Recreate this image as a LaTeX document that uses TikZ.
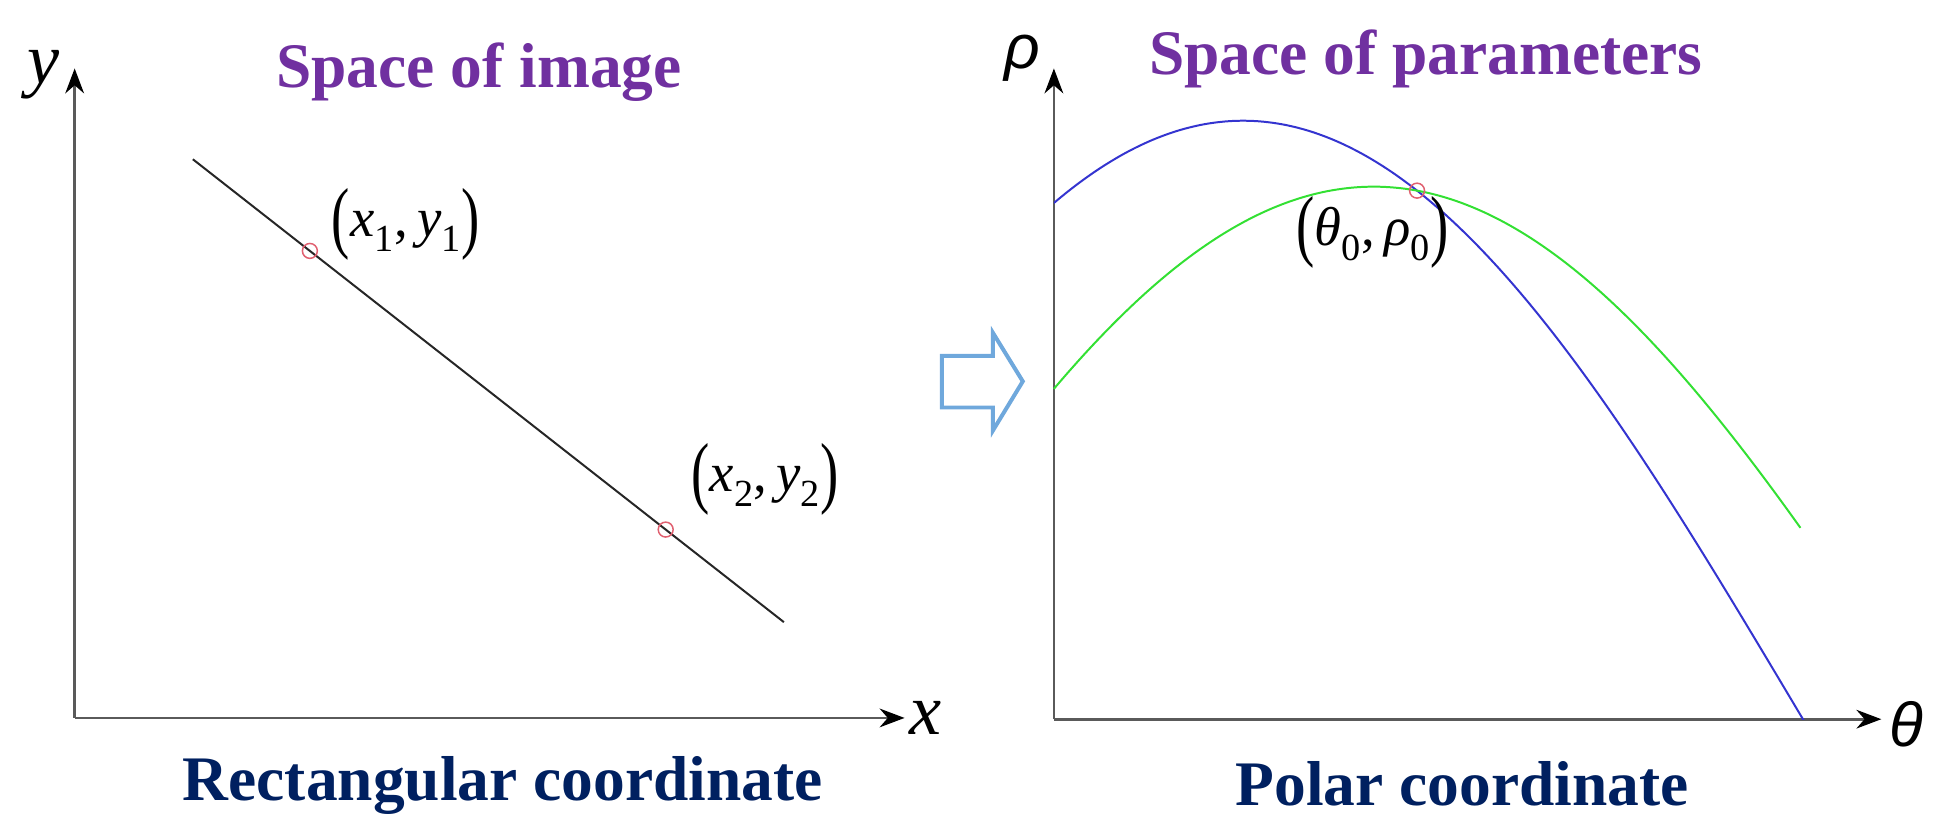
\documentclass[tikz,border=0pt]{standalone}
\usepackage{fontspec}
\setmainfont{Liberation Serif}
\newfontfamily\sansfam{Liberation Sans}
\usetikzlibrary{arrows.meta,intersections}
\definecolor{ttlpurple}{HTML}{7030A0}
\definecolor{ttlnavy}{HTML}{002060}
\definecolor{arrblue}{HTML}{6FA8DC}
\definecolor{axgray}{HTML}{5A5A5A}
\definecolor{ptred}{HTML}{E06070}
\definecolor{curveblue}{HTML}{3434D0}
\definecolor{curvegreen}{HTML}{33E033}
\newcommand\bigparen[1]{\raisebox{-0.12em}{\scalebox{1}[1.45]{#1}}}
\newcommand\ptlabel[4]{\bigparen{(}\textit{#1}\textsubscript{#2},\,\textit{#3}\textsubscript{#4}\bigparen{)}}
\begin{document}
\begin{tikzpicture}[x=1pt,y=-1pt,
  axisline/.style={draw=axgray, line width=2.2pt, -{Stealth[length=20pt,width=15pt,color=black]}},
  titletext/.style={font=\fontsize{51}{60}\selectfont\bfseries, text=ttlpurple, anchor=base},
  subtext/.style={font=\fontsize{51}{60}\selectfont\bfseries, text=ttlnavy, anchor=base},
  mathlabel/.style={font=\fontsize{44}{50}\selectfont},
  axlabel/.style={font=\fontsize{58}{60}\selectfont\itshape},
  greeklabel/.style={font=\fontsize{50}{56}\selectfont\sansfam\itshape},
  ptcirc/.style={circle, draw=ptred, line width=1.2pt, minimum size=12pt, inner sep=0pt},
  curve/.style={line width=1.6pt},
  bigarrow/.style={draw=arrblue, line width=3.2pt, line join=miter}]
\useasboundingbox (0,0) rectangle (1568,667);
% ---- left panel ----
\coordinate (o1) at (60,577);
\coordinate (y1top) at (60,55);
\coordinate (x1end) at (727,577);
\draw[axisline] (o1) -- (y1top);
\draw[axisline] (o1) -- (x1end);
\node[axlabel] (ylab) at (35,60) {y};
\node[axlabel] (xlab) at (744,577) {x};
\node[titletext] (t1) at (385,70) {Space of image};
\node[subtext] (s1) at (404,643) {Rectangular coordinate};
\coordinate (la) at (155,128);
\coordinate (lb) at (630,500);
\draw[black!85, line width=1.6pt] (la) -- (lb)
  node[ptcirc, pos=0.198] (p1) {}
  node[ptcirc, pos=0.8] (p2) {};
\node[mathlabel] (p1lab) at (326,180) {\ptlabel{x}{1}{y}{1}};
\node[mathlabel] (p2lab) at (615,385) {\ptlabel{x}{2}{y}{2}};
% ---- arrow ----
\draw[bigarrow] (757,286) -- (798,286) -- (798,267.5) -- (822,306.5) -- (798,346) -- (798,327.5) -- (757,327.5) -- cycle;
% ---- right panel ----
\coordinate (o2) at (847,578);
\coordinate (y2top) at (847,55);
\coordinate (x2end) at (1512,578);
\draw[axisline] (o2) -- (y2top);
\draw[axisline] (o2) -- (x2end);
\node[greeklabel] (rholab) at (822,47) {ρ};
\node[greeklabel] (thlab) at (1532,582) {θ};
\node[titletext] (t2) at (1146,60) {Space of parameters};
\node[subtext] (s2) at (1175,647) {Polar coordinate};
\begin{scope}
\clip (847,0) rectangle (1568,578);
\draw[curve, curveblue, name path global=bluec] plot[domain=847:1452, samples=150, smooth] (\x, {578-481*cos(0.2*(\x-999))});
\end{scope}
\draw[curve, curvegreen, name path global=greenc] plot[domain=847:1447, samples=150, smooth] (\x, {578-428*cos(0.201*(\x-1104))});
\path[name intersections={of=bluec and greenc, by=ip}];
\node[ptcirc] (p0) at (ip) {};
\node[mathlabel] (p0lab) at (1103,187) {\ptlabel{θ}{0}{ρ}{0}};
\end{tikzpicture}
\end{document}
